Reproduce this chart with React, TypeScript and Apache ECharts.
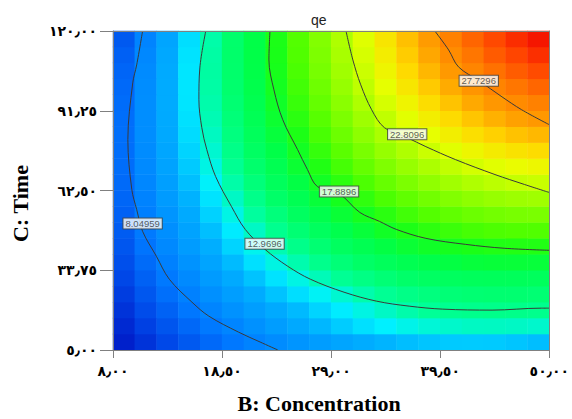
import React, { useEffect, useRef } from 'react';
import * as echarts from 'echarts';

// Cell centres of the response-surface grid (B: Concentration, C: Time)
const bCenters = [9.05, 11.15, 13.25, 15.35, 17.45, 19.55, 21.65, 23.75, 25.85, 27.95, 30.05, 32.15, 34.25, 36.35, 38.45, 40.55, 42.65, 44.75, 46.85, 48.95];
const cCenters = [7.875, 13.625, 19.375, 25.125, 30.875, 36.625, 42.375, 48.125, 53.875, 59.625, 65.375, 71.125, 76.875, 82.625, 88.375, 94.125, 99.875, 105.625, 111.375, 117.125];

// qe values read from the colour field, rows from C low (bottom) to C high (top)
const qeRow00 = [5.02, 5.55, 6.10, 6.66, 7.20, 7.73, 8.24, 8.71, 9.15, 9.62, 10.03, 10.41, 10.71, 10.95, 11.12, 11.23, 11.26, 11.23, 11.12, 10.94];
const qeRow01 = [5.28, 5.90, 6.53, 7.16, 7.78, 8.38, 8.96, 9.61, 10.23, 10.78, 11.29, 11.74, 12.13, 12.45, 12.71, 12.89, 13.00, 13.02, 12.98, 12.87];
const qeRow02 = [5.55, 6.25, 6.95, 7.66, 8.35, 9.03, 9.68, 10.29, 10.86, 11.48, 12.04, 12.54, 12.98, 13.35, 13.65, 13.87, 14.02, 14.08, 14.08, 13.99];
const qeRow03 = [5.82, 6.59, 7.37, 8.15, 8.92, 9.67, 10.38, 11.06, 11.70, 12.28, 12.81, 13.33, 13.77, 14.16, 14.46, 14.69, 14.83, 14.90, 14.89, 14.80];
const qeRow04 = [6.08, 6.92, 7.78, 8.63, 9.47, 10.29, 11.07, 11.82, 12.52, 13.16, 13.75, 14.27, 14.72, 15.10, 15.40, 15.63, 15.77, 15.82, 15.80, 15.69];
const qeRow05 = [6.32, 7.24, 8.17, 9.09, 10.00, 10.88, 11.74, 12.55, 13.31, 14.02, 14.67, 15.24, 15.75, 16.19, 16.54, 16.81, 17.01, 17.11, 17.13, 17.06];
const qeRow06 = [6.55, 7.54, 8.54, 9.53, 10.50, 11.46, 12.38, 13.25, 14.08, 14.84, 15.55, 16.19, 16.76, 17.25, 17.65, 17.97, 18.21, 18.36, 18.42, 18.40];
const qeRow07 = [6.75, 7.81, 8.88, 9.94, 10.98, 12.00, 12.98, 13.91, 14.80, 15.63, 16.40, 17.09, 17.72, 18.26, 18.72, 19.09, 19.38, 19.57, 19.68, 19.69];
const qeRow08 = [6.94, 8.06, 9.19, 10.32, 11.42, 12.51, 13.55, 14.55, 15.50, 16.39, 17.21, 17.96, 18.64, 19.24, 19.75, 20.17, 20.51, 20.75, 20.90, 20.97];
const qeRow09 = [7.09, 8.28, 9.47, 10.66, 11.83, 12.97, 14.08, 15.14, 16.15, 17.09, 17.98, 18.79, 19.51, 20.17, 20.73, 21.21, 21.59, 21.88, 22.08, 22.18];
const qeRow10 = [7.22, 8.47, 9.72, 10.97, 12.20, 13.40, 14.57, 15.68, 16.75, 17.76, 18.70, 19.56, 20.35, 21.05, 21.66, 22.19, 22.62, 22.96, 23.20, 23.35];
const qeRow11 = [7.31, 8.62, 9.93, 11.24, 12.52, 13.79, 15.01, 16.18, 17.31, 18.37, 19.36, 20.28, 21.12, 21.88, 22.54, 23.12, 23.60, 23.99, 24.28, 24.47];
const qeRow12 = [7.36, 8.73, 10.10, 11.46, 12.81, 14.13, 15.41, 16.64, 17.81, 18.93, 19.98, 20.95, 21.84, 22.65, 23.37, 23.99, 24.53, 24.96, 25.30, 25.53];
const qeRow13 = [7.38, 8.80, 10.23, 11.65, 13.04, 14.41, 15.75, 17.03, 18.27, 19.44, 20.54, 21.56, 22.51, 23.37, 24.14, 24.81, 25.39, 25.87, 26.26, 26.54];
const qeRow14 = [7.36, 8.83, 10.31, 11.78, 13.23, 14.65, 16.04, 17.37, 18.66, 19.88, 21.03, 22.11, 23.11, 24.02, 24.84, 25.56, 26.19, 26.72, 27.15, 27.48];
const qeRow15 = [7.30, 8.82, 10.35, 11.86, 13.36, 14.84, 16.28, 17.66, 19.00, 20.27, 21.48, 22.61, 23.65, 24.61, 25.48, 26.25, 26.93, 27.51, 27.99, 28.36];
const qeRow16 = [7.20, 8.77, 10.33, 11.90, 13.45, 14.97, 16.46, 17.89, 19.28, 20.60, 21.85, 23.03, 24.12, 25.14, 26.05, 26.88, 27.60, 28.23, 28.75, 29.17];
const qeRow17 = [7.06, 8.67, 10.28, 11.89, 13.48, 15.05, 16.58, 18.06, 19.50, 20.87, 22.17, 23.39, 24.54, 25.60, 26.56, 27.43, 28.21, 28.88, 29.44, 29.91];
const qeRow18 = [6.88, 8.52, 10.17, 11.83, 13.46, 15.07, 16.65, 18.18, 19.66, 21.07, 22.42, 23.69, 24.88, 25.99, 27.00, 27.92, 28.74, 29.46, 30.07, 30.59];
const qeRow19 = [6.65, 8.33, 10.02, 11.71, 13.39, 15.04, 16.66, 18.23, 19.75, 21.21, 22.60, 23.92, 25.16, 26.31, 27.37, 28.34, 29.21, 29.96, 30.63, 31.19];
const qeRows = [qeRow00, qeRow01, qeRow02, qeRow03, qeRow04, qeRow05, qeRow06, qeRow07, qeRow08, qeRow09, qeRow10, qeRow11, qeRow12, qeRow13, qeRow14, qeRow15, qeRow16, qeRow17, qeRow18, qeRow19];

// Tick values and their (Arabic-Indic) labels
const xTickValues = [8, 18.5, 29, 39.5, 50];
const xTickLabels = ['٨٫٠٠', '١٨٫٥٠', '٢٩٫٠٠', '٣٩٫٥٠', '٥٠٫٠٠'];
const yTickValues = [5, 33.75, 62.5, 91.25, 120];
const yTickLabels = ['٥٫٠٠', '٣٣٫٧٥', '٦٢٫٥٠', '٩١٫٢٥', '١٢٠٫٠٠'];

// Contour lines [B, C]
const contourLevels = ['8.04959', '12.9696', '17.8896', '22.8096', '27.7296'];
const contour1 = [[10.85, 120], [10.28, 107.78], [9.9, 101.31], [9.43, 80.83], [9.81, 62.86], [10.28, 55.67], [10.85, 47.77], [12.18, 38.78], [13.42, 30.52], [15.6, 22.25], [17.22, 17.22], [20.07, 11.47], [22.16, 7.88], [23.87, 5]];
const contour2 = [[16.93, 120], [16.36, 106.7], [16.27, 95.2], [16.55, 85.14], [17.03, 77.23], [17.88, 67.53], [19.4, 56.75], [20.73, 48.48], [22.63, 41.3], [24.82, 35.19], [27.0, 30.52], [30.24, 25.84], [33.37, 22.61], [36.51, 20.81], [39.74, 19.73], [44.49, 19.38], [49.24, 20.09], [50, 20.09]];
const contour3 = [[23.11, 120], [23.01, 109.58], [23.49, 98.8], [24.34, 88.02], [25.77, 77.23], [26.72, 70.05], [27.67, 63.94], [29.76, 61.4], [31.76, 54.59], [33.66, 51.36], [35.27, 48.48], [38.12, 45.25], [41.92, 43.09], [45.72, 41.66], [50, 40.94]];
const contour4 = [[30.43, 120], [31.09, 109.58], [31.85, 100.59], [32.9, 91.61], [34.13, 85.14], [36.32, 81.55], [38.12, 78.31], [40.97, 73.64], [44.77, 68.25], [47.62, 64.66], [50, 61.78]];
const contour5 = [[38.98, 120], [40.31, 113.17], [41.26, 107.06], [43.25, 102.03], [45.44, 96.28], [47.34, 91.61], [50, 86.22]];
const contours = [contour1, contour2, contour3, contour4, contour5];
const contourLabelPos = [[10.85, 50.6], [22.59, 43.27], [29.76, 62.14], [36.32, 82.8], [43.21, 102.03]];

// Colour ramp (evenly spaced over the visualMap range)
const rainbow = [
  '#0010c0', '#0048e8', '#0076ff', '#0094ff', '#00b0ff', '#00f0ff', '#00ff98', '#00ff68', '#00ff48', '#18ff18',
  '#50ff00', '#80ff00', '#b0ff00', '#e8ff00', '#ffd800', '#ffa000', '#ff7800', '#ff4000', '#f00000',
];

const axisGrey = '#808080';
const tickFont = { fontFamily: 'DejaVu Sans', fontWeight: 'bold' as const, fontSize: 14, color: '#000' };
const nameFont = { fontFamily: 'Liberation Serif', fontWeight: 'bold' as const, fontSize: 22, color: '#000' };

function buildOption() {
  const heatData: number[][] = [];
  qeRows.forEach((row, j) => row.forEach((v, i) => heatData.push([i, j, v])));

  const lineSeries = contours.map((pts) => ({
    type: 'line',
    xAxisIndex: 1,
    yAxisIndex: 1,
    data: pts,
    smooth: 0.35,
    showSymbol: false,
    symbol: 'none',
    silent: true,
    lineStyle: { color: '#3a3a3a', width: 1 },
    z: 4,
  }));

  return {
    animation: false,
    backgroundColor: '#ffffff',
    title: {
      text: 'qe',
      left: 306,
      top: 8,
      textStyle: { fontFamily: 'Liberation Sans', fontWeight: 'normal', fontSize: 14, color: '#222' },
    },
    grid: { left: 113, top: 31, width: 442, height: 320, containLabel: false },
    visualMap: {
      type: 'continuous',
      show: false,
      min: 4.6,
      max: 31.7,
      dimension: 2,
      seriesIndex: 0,
      inRange: { color: rainbow },
    },
    xAxis: [
      { type: 'category', data: bCenters.map(String), show: false, gridIndex: 0 },
      {
        type: 'value', min: 8, max: 50, position: 'bottom', z: 10,
        name: 'B: Concentration', nameLocation: 'middle', nameGap: 42,
        nameTextStyle: { ...nameFont, padding: [0, 24, 0, 0] },
        axisLine: { show: true, lineStyle: { color: axisGrey, width: 1 } },
        axisTick: { show: true, length: 8, customValues: xTickValues, lineStyle: { color: axisGrey } },
        axisLabel: {
          show: true, customValues: xTickValues, margin: 14, ...tickFont,
          formatter: (v: number) => { const k = xTickValues.indexOf(v); return k >= 0 ? xTickLabels[k] : ''; },
        },
        splitLine: { show: false },
      },
      {
        type: 'value', min: 8, max: 50, position: 'top', z: 10,
        axisLine: { show: true, lineStyle: { color: axisGrey, width: 1 } },
        axisTick: { show: false }, axisLabel: { show: false }, splitLine: { show: false },
      },
    ],
    yAxis: [
      { type: 'category', data: cCenters.map(String), show: false, gridIndex: 0 },
      {
        type: 'value', min: 5, max: 120, position: 'left', z: 10,
        name: 'C: Time', nameLocation: 'middle', nameGap: 82,
        nameTextStyle: { ...nameFont, padding: [0, 26, 0, 0] },
        axisLine: { show: true, lineStyle: { color: axisGrey, width: 1 } },
        axisTick: { show: true, length: 13, customValues: yTickValues, lineStyle: { color: axisGrey } },
        axisLabel: {
          show: true, customValues: yTickValues, margin: 16, ...tickFont,
          formatter: (v: number) => { const k = yTickValues.indexOf(v); return k >= 0 ? yTickLabels[k] : ''; },
        },
        splitLine: { show: false },
      },
      {
        type: 'value', min: 5, max: 120, position: 'right', z: 10,
        axisLine: { show: true, lineStyle: { color: axisGrey, width: 1 } },
        axisTick: { show: false }, axisLabel: { show: false }, splitLine: { show: false },
      },
    ],
    series: [
      {
        type: 'heatmap',
        xAxisIndex: 0,
        yAxisIndex: 0,
        data: heatData,
        silent: true,
        itemStyle: { borderWidth: 0 },
        emphasis: { disabled: true },
        z: 2,
      },
      ...lineSeries,
      {
        type: 'scatter',
        xAxisIndex: 1,
        yAxisIndex: 1,
        silent: true,
        symbolSize: 1,
        itemStyle: { color: 'rgba(0,0,0,0)' },
        z: 6,
        data: contourLabelPos.map((p, k) => ({ value: p, name: contourLevels[k] })),
        label: {
          show: true,
          position: 'inside',
          formatter: '{b}',
          fontFamily: 'Liberation Sans',
          fontSize: 9.5,
          lineHeight: 10,
          color: '#333',
          backgroundColor: '#ffffff',
          borderColor: '#444',
          borderWidth: 1,
          padding: [0, 2, 0, 2],
        },
      },
    ],
  };
}

export default function App() {
  const ref = useRef<HTMLDivElement>(null);
  useEffect(() => {
    if (!ref.current) return;
    const chart = echarts.init(ref.current, null, { renderer: 'svg' });
    chart.setOption(buildOption() as any);
    return () => chart.dispose();
  }, []);
  return (
    <div
      ref={ref}
      style={{ position: 'fixed', left: 0, top: 0, width: 572, height: 419, background: '#fff' }}
    />
  );
}
